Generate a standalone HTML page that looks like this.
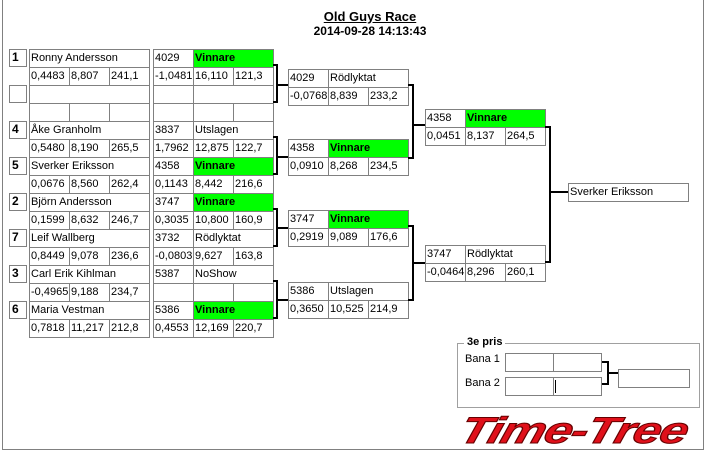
<!DOCTYPE html>
<html><head><meta charset="utf-8"><style>
body{margin:0;width:706px;height:452px;background:#fff;position:relative;overflow:hidden;font-family:"Liberation Sans",Arial,sans-serif;font-size:11px;color:#000}
.c{position:absolute;border:1px solid #808080;box-sizing:border-box;height:19px;line-height:16px;padding-left:1px;white-space:nowrap;overflow:hidden;background:#fff}
.w{width:41px}.n{width:81px}.l{width:121px}
.g{background:#00ff00;font-weight:bold}
.s{position:absolute;border:1px solid #808080;box-sizing:border-box;width:18px;height:18px;font-weight:bold;font-size:12px;line-height:15px;padding-left:2px}
</style></head><body>
<div style="position:absolute;left:2px;top:0;width:702px;height:450px;border:1px solid #808080;border-top:none;box-sizing:border-box"></div>
<div style="position:absolute;left:0;width:740px;top:9px;text-align:center;font-weight:bold;font-size:13px;text-decoration:underline">Old Guys Race</div>
<div style="position:absolute;left:0;width:740px;top:24px;text-align:center;font-weight:bold;font-size:12px">2014-09-28 14:13:43</div>

<!-- Round 1 -->
<div class="s" style="left:9px;top:49px">1</div>
<div class="c l" style="left:29px;top:49px">Ronny Andersson</div>
<div class="c w" style="left:29px;top:67px">0,4483</div><div class="c w" style="left:69px;top:67px">8,807</div><div class="c w" style="left:109px;top:67px">241,1</div>
<div class="c w" style="left:153px;top:49px">4029</div><div class="c n g" style="left:193px;top:49px">Vinnare</div>
<div class="c w" style="left:153px;top:67px">-1,0481</div><div class="c w" style="left:193px;top:67px">16,110</div><div class="c w" style="left:233px;top:67px">121,3</div>

<div class="s" style="left:9px;top:85px"></div>
<div class="c l" style="left:29px;top:85px"></div>
<div class="c w" style="left:29px;top:103px"></div><div class="c w" style="left:69px;top:103px"></div><div class="c w" style="left:109px;top:103px"></div>
<div class="c w" style="left:153px;top:85px"></div><div class="c n" style="left:193px;top:85px"></div>
<div class="c w" style="left:153px;top:103px"></div><div class="c w" style="left:193px;top:103px"></div><div class="c w" style="left:233px;top:103px"></div>

<div class="s" style="left:9px;top:121px">4</div>
<div class="c l" style="left:29px;top:121px">Åke Granholm</div>
<div class="c w" style="left:29px;top:139px">0,5480</div><div class="c w" style="left:69px;top:139px">8,190</div><div class="c w" style="left:109px;top:139px">265,5</div>
<div class="c w" style="left:153px;top:121px">3837</div><div class="c n" style="left:193px;top:121px">Utslagen</div>
<div class="c w" style="left:153px;top:139px">1,7962</div><div class="c w" style="left:193px;top:139px">12,875</div><div class="c w" style="left:233px;top:139px">122,7</div>

<div class="s" style="left:9px;top:157px">5</div>
<div class="c l" style="left:29px;top:157px">Sverker Eriksson</div>
<div class="c w" style="left:29px;top:175px">0,0676</div><div class="c w" style="left:69px;top:175px">8,560</div><div class="c w" style="left:109px;top:175px">262,4</div>
<div class="c w" style="left:153px;top:157px">4358</div><div class="c n g" style="left:193px;top:157px">Vinnare</div>
<div class="c w" style="left:153px;top:175px">0,1143</div><div class="c w" style="left:193px;top:175px">8,442</div><div class="c w" style="left:233px;top:175px">216,6</div>

<div class="s" style="left:9px;top:193px">2</div>
<div class="c l" style="left:29px;top:193px">Björn Andersson</div>
<div class="c w" style="left:29px;top:211px">0,1599</div><div class="c w" style="left:69px;top:211px">8,632</div><div class="c w" style="left:109px;top:211px">246,7</div>
<div class="c w" style="left:153px;top:193px">3747</div><div class="c n g" style="left:193px;top:193px">Vinnare</div>
<div class="c w" style="left:153px;top:211px">0,3035</div><div class="c w" style="left:193px;top:211px">10,800</div><div class="c w" style="left:233px;top:211px">160,9</div>

<div class="s" style="left:9px;top:229px">7</div>
<div class="c l" style="left:29px;top:229px">Leif Wallberg</div>
<div class="c w" style="left:29px;top:247px">0,8449</div><div class="c w" style="left:69px;top:247px">9,078</div><div class="c w" style="left:109px;top:247px">236,6</div>
<div class="c w" style="left:153px;top:229px">3732</div><div class="c n" style="left:193px;top:229px">Rödlyktat</div>
<div class="c w" style="left:153px;top:247px">-0,0803</div><div class="c w" style="left:193px;top:247px">9,627</div><div class="c w" style="left:233px;top:247px">163,8</div>

<div class="s" style="left:9px;top:265px">3</div>
<div class="c l" style="left:29px;top:265px">Carl Erik Kihlman</div>
<div class="c w" style="left:29px;top:283px">-0,4965</div><div class="c w" style="left:69px;top:283px">9,188</div><div class="c w" style="left:109px;top:283px">234,7</div>
<div class="c w" style="left:153px;top:265px">5387</div><div class="c n" style="left:193px;top:265px">NoShow</div>
<div class="c w" style="left:153px;top:283px"></div><div class="c w" style="left:193px;top:283px"></div><div class="c w" style="left:233px;top:283px"></div>

<div class="s" style="left:9px;top:301px">6</div>
<div class="c l" style="left:29px;top:301px">Maria Vestman</div>
<div class="c w" style="left:29px;top:319px">0,7818</div><div class="c w" style="left:69px;top:319px">11,217</div><div class="c w" style="left:109px;top:319px">212,8</div>
<div class="c w" style="left:153px;top:301px">5386</div><div class="c n g" style="left:193px;top:301px">Vinnare</div>
<div class="c w" style="left:153px;top:319px">0,4553</div><div class="c w" style="left:193px;top:319px">12,169</div><div class="c w" style="left:233px;top:319px">220,7</div>

<!-- Round 2 -->
<div class="c w" style="left:288px;top:69px">4029</div><div class="c n" style="left:328px;top:69px">Rödlyktat</div>
<div class="c w" style="left:288px;top:87px">-0,0768</div><div class="c w" style="left:328px;top:87px">8,839</div><div class="c w" style="left:368px;top:87px">233,2</div>

<div class="c w" style="left:288px;top:139px">4358</div><div class="c n g" style="left:328px;top:139px">Vinnare</div>
<div class="c w" style="left:288px;top:157px">0,0910</div><div class="c w" style="left:328px;top:157px">8,268</div><div class="c w" style="left:368px;top:157px">234,5</div>

<div class="c w" style="left:288px;top:210px">3747</div><div class="c n g" style="left:328px;top:210px">Vinnare</div>
<div class="c w" style="left:288px;top:228px">0,2919</div><div class="c w" style="left:328px;top:228px">9,089</div><div class="c w" style="left:368px;top:228px">176,6</div>

<div class="c w" style="left:288px;top:282px">5386</div><div class="c n" style="left:328px;top:282px">Utslagen</div>
<div class="c w" style="left:288px;top:300px">0,3650</div><div class="c w" style="left:328px;top:300px">10,525</div><div class="c w" style="left:368px;top:300px">214,9</div>

<!-- Round 3 -->
<div class="c w" style="left:425px;top:109px">4358</div><div class="c n g" style="left:465px;top:109px">Vinnare</div>
<div class="c w" style="left:425px;top:127px">0,0451</div><div class="c w" style="left:465px;top:127px">8,137</div><div class="c w" style="left:505px;top:127px">264,5</div>

<div class="c w" style="left:425px;top:245px">3747</div><div class="c n" style="left:465px;top:245px">Rödlyktat</div>
<div class="c w" style="left:425px;top:263px">-0,0464</div><div class="c w" style="left:465px;top:263px">8,296</div><div class="c w" style="left:505px;top:263px">260,1</div>

<!-- Final -->
<div class="c l" style="left:568px;top:183px">Sverker Eriksson</div>

<!-- 3e pris -->
<div style="position:absolute;left:457px;top:343px;width:243px;height:65px;border:1px solid #a0a0a0;box-sizing:border-box"></div>
<div style="position:absolute;left:464px;top:336px;background:#fff;padding:0 3px;font-weight:bold">3e pris</div>
<div style="position:absolute;left:465px;top:353px">Bana 1</div>
<div style="position:absolute;left:465px;top:377px">Bana 2</div>
<div class="c" style="left:505px;top:353px;width:49px"></div><div class="c" style="left:553px;top:353px;width:49px"></div>
<div class="c" style="left:505px;top:377px;width:49px"></div><div class="c" style="left:553px;top:377px;width:49px"></div>
<div style="position:absolute;left:555px;top:380px;width:1px;height:13px;background:#000"></div>
<div class="c" style="left:618px;top:369px;width:72px"></div>

<svg width="706" height="452" style="position:absolute;left:0;top:0" fill="none" stroke="#000" stroke-width="2">
<path d="M273 65H277V102H273M277 85H288"/>
<path d="M273 137H277V174H273M277 157H288"/>
<path d="M273 209H277V246H273M277 228H288"/>
<path d="M273 281H277V318H273M277 300H288"/>
<path d="M408 85H413V158H408M413 125H425"/>
<path d="M408 226H413V300H408M413 263H425"/>
<path d="M545 127H550V262H545M550 192H568"/>
<path d="M602 362H608V384H602M608 373H618"/>
</svg>

<div style="position:absolute;left:453px;top:410px;width:242px;text-align:center;font-family:'Liberation Sans',sans-serif;font-weight:bold;font-style:italic;font-size:37px;line-height:42px;letter-spacing:-1px;color:#e0101a;-webkit-text-stroke:1px #600;transform:scaleX(1.36) skewX(-12deg)">Time-Tree</div>
</body></html>
